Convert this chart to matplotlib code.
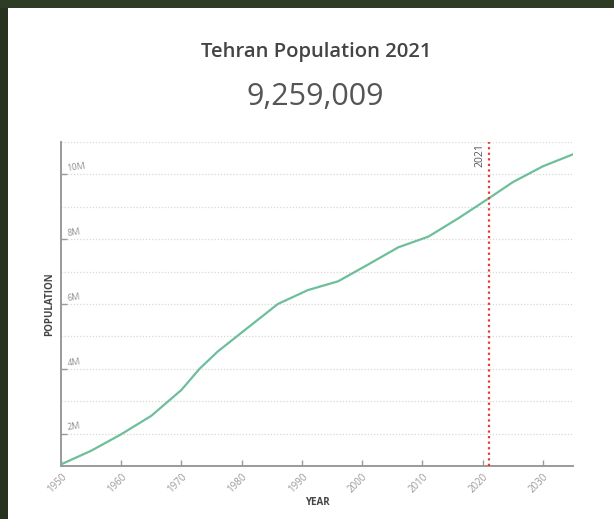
import matplotlib
matplotlib.use("Agg")
from matplotlib import pyplot as plt
from matplotlib.patches import Rectangle
import matplotlib.transforms as mtransforms

plt.rcParams["font.family"] = ["Open Sans", "DejaVu Sans"]

# population
years = [1950, 1955, 1960, 1965, 1970, 1973, 1976, 1980, 1986, 1991,
         1996, 2001, 2006, 2011, 2016, 2021, 2025, 2030, 2035]
population = [1.05e6, 1.47e6, 1.98e6, 2.55e6, 3.35e6, 4.00e6, 4.53e6,
              5.12e6, 6.00e6, 6.43e6, 6.70e6, 7.22e6, 7.75e6, 8.08e6,
              8.65e6, 9.259009e6, 9.76e6, 10.25e6, 10.62e6]
x_ticks = [1950, 1960, 1970, 1980, 1990, 2000, 2010, 2020, 2030]
y_ticks = [2e6, 4e6, 6e6, 8e6, 10e6]
y_tick_labels = ["2M", "4M", "6M", "8M", "10M"]
grid_levels = [2e6, 3e6, 4e6, 5e6, 6e6, 7e6, 8e6, 9e6, 10e6, 11e6]
marker_year = 2021
title = "Tehran Population 2021"
headline = "9,259,009"

W, H = 614, 519
fig = plt.figure(figsize=(W / 100, H / 100), dpi=100)
fig.patch.set_facecolor("white")
# dark textured frame on the top and left edge
fig.patches.append(Rectangle((0, 0), 8 / W, 1, transform=fig.transFigure,
                             facecolor="#27331f", edgecolor="none", zorder=-1))
fig.patches.append(Rectangle((0, 1 - 8 / H), 1, 8 / H, transform=fig.transFigure,
                             facecolor="#2e3c26", edgecolor="none", zorder=-1))

ax = fig.add_axes([61 / W, 1 - 466 / H, (573 - 61) / W, (466 - 142) / H])
ax.set_facecolor("white")

for g in grid_levels:
    ax.axhline(g, color="#d8d8d8", linestyle=(0, (1, 1.5)), linewidth=0.9, zorder=1)

ax.plot(years, population, color="#6dbf9b", linewidth=1.6, zorder=3)
ax.axvline(marker_year, color="#e8393a", linestyle=(0, (1, 1.5)), linewidth=1.6, zorder=4)
ax.text(marker_year - 0.5, 10.97e6, str(marker_year), rotation=90, ha="right", va="top",
        fontsize=7.5, color="#555555")

ax.set_xlim(1950, 2035)
ax.set_ylim(1e6, 11e6)

for side in ("top", "right"):
    ax.spines[side].set_visible(False)
for side in ("left", "bottom"):
    ax.spines[side].set_color("#9a9a9a")
    ax.spines[side].set_linewidth(1.4)

ax.set_xticks(x_ticks)
ax.set_xticklabels([str(x) for x in x_ticks], rotation=45, ha="right",
                   rotation_mode="anchor", fontsize=7, color="#999999")
ax.tick_params(axis="x", direction="in", length=4, width=1, color="#9a9a9a", pad=4)

ax.set_yticks(y_ticks)
ax.set_yticklabels([])
ax.tick_params(axis="y", direction="in", length=4, width=1, color="#9a9a9a")
trans = mtransforms.blended_transform_factory(ax.transAxes, ax.transData)
for v, lab in zip(y_ticks, y_tick_labels):
    ax.text(0.011, v + 0.04e6, lab, transform=trans, ha="left", va="bottom",
            fontsize=6.5, color="#8f8f8f", rotation=8)

ax.set_xlabel("YEAR", fontsize=7, fontweight="bold", color="#444444", labelpad=1)
ax.set_ylabel("POPULATION", fontsize=7, fontweight="bold", color="#444444", labelpad=1)

fig.text(316 / W, 1 - 52 / H, title, ha="center", va="center", fontsize=14.6,
         fontweight="semibold", color="#444444")
fig.text(315 / W, 1 - 97 / H, headline, ha="center", va="center", fontsize=22,
         color="#555555")

fig.savefig("out.png", dpi=100, facecolor=fig.get_facecolor())
